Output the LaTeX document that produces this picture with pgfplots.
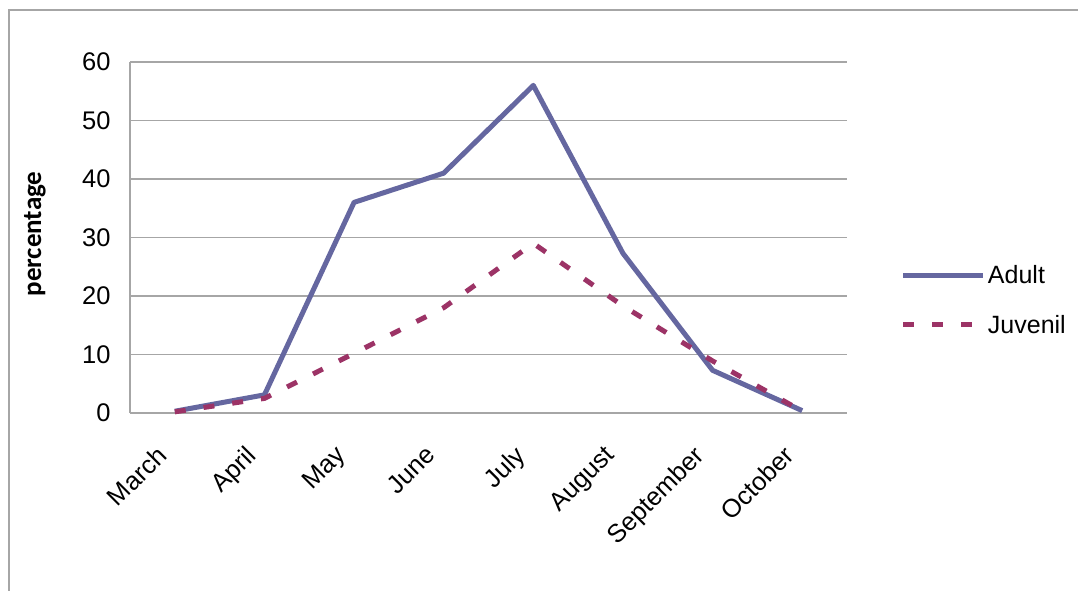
\documentclass[border=0pt]{standalone}
\usepackage{pgfplots}
\pgfplotsset{compat=1.18}
\usepackage{fontspec}
\setmainfont{Liberation Sans}
\newfontfamily\carlito{Carlito}
\definecolor{adultc}{HTML}{6567A0}
\definecolor{juvc}{HTML}{9C3366}
\definecolor{gridc}{HTML}{A6A6A6}
\begin{document}
\begin{tikzpicture}
\path[use as bounding box] (0,0) rectangle (1078pt,591pt);
\draw[color=gridc, line width=1.2pt] (9pt,0pt) -- (9pt,581pt) -- (1080pt,581pt);
\begin{axis}[
  at={(130pt,178pt)}, anchor=south west,
  scale only axis, width=717pt, height=351pt,
  xmin=-0.5, xmax=7.5, ymin=0, ymax=60,
  clip=false,
  axis x line*=bottom, axis y line*=left,
  axis line style={color=gridc, line width=1.5pt, -},
  xtick={0,...,7},
  xticklabels={March,April,May,June,July,August,September,October},
  ytick={0,10,20,30,40,50,60},
  major tick length=0pt,
  ymajorgrids, grid style={color=gridc, line width=1.5pt},
  /pgf/number format/assume math mode=true,
  tick label style={font=\fontsize{25.5}{30}\selectfont},
  yticklabel style={xshift=-16pt},
  xticklabel style={rotate=45, anchor=north east, xshift=-32.5pt, yshift=-4.5pt},
  ylabel={\carlito\bfseries percentage},
  ylabel style={font=\fontsize{27}{30}\selectfont, at={(axis description cs:-0.1325,0.51)}, anchor=center},
  legend style={draw=none, fill=none, at={(axis description cs:1.075,0.322)}, anchor=west, inner sep=0pt, row sep=26pt, font=\fontsize{25}{30}\selectfont, cells={anchor=west}},
  legend image code/.code={\draw[#1] (0pt,0pt) -- (80pt,0pt);},
]
\addplot[color=adultc, line width=5pt, line join=round] coordinates {
(0,0.3) (1,3.1) (2,36) (3,41) (4,56) (5,27.3) (6,7.3) (7,0.4)};
\addlegendentry{Adult}
\addplot[color=juvc, line width=5pt, dash pattern=on 11pt off 18pt] coordinates {
(0,0.2) (1,2.5) (2,10.2) (3,18) (4,29) (5,18.3) (6,8.9) (7,0.3)};
\addlegendentry{Juvenil}
\end{axis}
\end{tikzpicture}
\end{document}
